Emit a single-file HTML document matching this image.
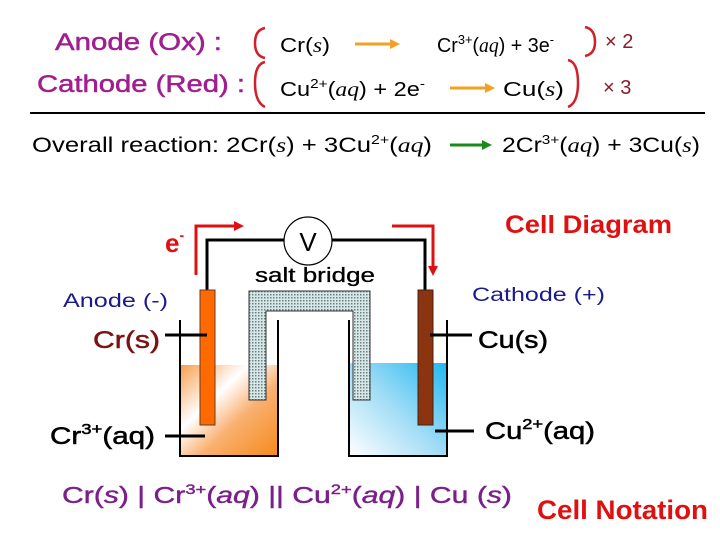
<!DOCTYPE html>
<html><head><meta charset="utf-8"><style>html,body{margin:0;padding:0;background:#fff}svg{display:block}text{font-family:"Liberation Sans",sans-serif}</style></head><body>
<svg width="720" height="540" viewBox="0 0 720 540" xmlns="http://www.w3.org/2000/svg">
<defs>
<pattern id="dots" width="3" height="3" patternUnits="userSpaceOnUse"><rect width="3" height="3" fill="#d8e8e8"/><rect width="1.5" height="1.5" fill="#6a7f80"/></pattern>
<linearGradient id="org" x1="0" y1="0" x2="1" y2="1"><stop offset="0" stop-color="#f6a050"/><stop offset="0.35" stop-color="#fff"/><stop offset="0.6" stop-color="#f9b070"/><stop offset="1" stop-color="#f58a1a"/></linearGradient>
<linearGradient id="blu" x1="1" y1="0" x2="0" y2="1"><stop offset="0" stop-color="#20b8f0"/><stop offset="0.5" stop-color="#a0dcf6"/><stop offset="1" stop-color="#fff"/></linearGradient>
</defs>
<!-- half reactions -->
<text x="55" y="50" font-size="24" fill="#a01f90" stroke="#a01f90" stroke-width="0.5" textLength="167" lengthAdjust="spacingAndGlyphs">Anode (Ox) :</text>
<text x="37" y="92" font-size="24" fill="#a01f90" stroke="#a01f90" stroke-width="0.5" textLength="208" lengthAdjust="spacingAndGlyphs">Cathode (Red) :</text>
<path d="M265 28 Q255 30 255 43 Q255 56 265 58" fill="none" stroke="#d0202a" stroke-width="2.5"/>
<path d="M265 62 Q255 64 255 83 Q255 102 265 107" fill="none" stroke="#d0202a" stroke-width="2.5"/>
<path d="M585 27 Q595 29 595 42 Q595 54 585 56" fill="none" stroke="#d0202a" stroke-width="2.5"/>
<path d="M568 60 Q578 62 578 83 Q578 103 568 107" fill="none" stroke="#d0202a" stroke-width="2.5"/>
<text x="280" y="52" font-size="20" textLength="50" lengthAdjust="spacingAndGlyphs">Cr(<tspan font-family="Liberation Serif" font-style="italic">s</tspan>)</text>
<line x1="355" y1="44" x2="392" y2="44" stroke="#f5a020" stroke-width="3"/><polygon points="390,39 400,44 390,49" fill="#f5a020"/>
<text x="437" y="52" font-size="20" textLength="117" lengthAdjust="spacingAndGlyphs">Cr<tspan font-size="13" dy="-8">3+</tspan><tspan dy="8">(</tspan><tspan font-family="Liberation Serif" font-style="italic">aq</tspan>) + 3e<tspan font-size="13" dy="-8">-</tspan></text>
<text x="605" y="48" font-size="20" fill="#8b1a2a">× 2</text>
<text x="280" y="96" font-size="20" textLength="145" lengthAdjust="spacingAndGlyphs">Cu<tspan font-size="13" dy="-8">2+</tspan><tspan dy="8">(</tspan><tspan font-family="Liberation Serif" font-style="italic">aq</tspan>) + 2e<tspan font-size="13" dy="-8">-</tspan></text>
<line x1="450" y1="88" x2="487" y2="88" stroke="#f5a020" stroke-width="3"/><polygon points="485,83 495,88 485,93" fill="#f5a020"/>
<text x="503" y="96" font-size="20" textLength="61" lengthAdjust="spacingAndGlyphs">Cu(<tspan font-family="Liberation Serif" font-style="italic">s</tspan>)</text>
<text x="603" y="94" font-size="20" fill="#8b1a2a">× 3</text>
<line x1="30" y1="113" x2="705" y2="113" stroke="#000" stroke-width="2"/>
<text x="32" y="152" font-size="21" textLength="400" lengthAdjust="spacingAndGlyphs">Overall reaction:   2Cr(<tspan font-family="Liberation Serif" font-style="italic">s</tspan>) + 3Cu<tspan font-size="13" dy="-8">2+</tspan><tspan dy="8">(</tspan><tspan font-family="Liberation Serif" font-style="italic">aq</tspan>)</text>
<line x1="450" y1="145" x2="484" y2="145" stroke="#1a8a1a" stroke-width="3"/><polygon points="482,140 492,145 482,150" fill="#1a8a1a"/>
<text x="502" y="152" font-size="21" textLength="198" lengthAdjust="spacingAndGlyphs">2Cr<tspan font-size="13" dy="-8">3+</tspan><tspan dy="8">(</tspan><tspan font-family="Liberation Serif" font-style="italic">aq</tspan>) + 3Cu(<tspan font-family="Liberation Serif" font-style="italic">s</tspan>)</text>
<!-- cell diagram -->
<text x="505" y="233" font-size="25" font-weight="bold" fill="#e01010" textLength="167" lengthAdjust="spacingAndGlyphs">Cell Diagram</text>
<polyline points="207,290 207,240 284,240" fill="none" stroke="#000" stroke-width="3"/>
<polyline points="332,240 425,240 425,290" fill="none" stroke="#000" stroke-width="3"/>
<circle cx="308" cy="241" r="24" fill="#fff" stroke="#000" stroke-width="1.2"/>
<text x="308" y="251" font-size="26" text-anchor="middle">V</text>
<polyline points="196,275 196,226 236,226" fill="none" stroke="#e01010" stroke-width="3"/><polygon points="234,221 244,226 234,231" fill="#e01010"/>
<polyline points="392,226 433,226 433,267" fill="none" stroke="#e01010" stroke-width="3"/><polygon points="428,266 433,276 438,266" fill="#e01010"/>
<text x="165" y="252" font-size="26" font-weight="bold" fill="#e01010">e<tspan font-size="14" dy="-12">-</tspan></text>
<text x="255" y="282" font-size="20" stroke="#000" stroke-width="0.3" textLength="120" lengthAdjust="spacingAndGlyphs">salt bridge</text>
<!-- beakers -->
<path d="M181 365 H278 V456 H181 Z" fill="url(#org)"/>
<path d="M349 363 H447 V456 H349 Z" fill="url(#blu)"/>
<polyline points="180,320 180,456 278,456 278,320" fill="none" stroke="#000" stroke-width="2"/>
<polyline points="349,320 349,456 447,456 447,320" fill="none" stroke="#000" stroke-width="2"/>
<path d="M249 291 H370 V400 H353 V311 H266 V400 H249 Z" fill="url(#dots)" stroke="#333" stroke-width="1"/>
<rect x="200" y="290" width="15" height="135" fill="#ff6a00" stroke="#6a3a20" stroke-width="1"/>
<rect x="418" y="290" width="15" height="135" fill="#8b3410" stroke="#4a2010" stroke-width="1"/>
<line x1="165" y1="335" x2="207" y2="335" stroke="#000" stroke-width="3"/>
<line x1="165" y1="436" x2="205" y2="436" stroke="#000" stroke-width="3"/>
<line x1="430" y1="335" x2="472" y2="335" stroke="#000" stroke-width="3"/>
<line x1="435" y1="431" x2="474" y2="431" stroke="#000" stroke-width="3"/>
<text x="63" y="307" font-size="19" fill="#1a1a8a" textLength="105" lengthAdjust="spacingAndGlyphs">Anode (-)</text>
<text x="93" y="348" font-size="24" fill="#7a1414" stroke="#7a1414" stroke-width="0.5" textLength="67" lengthAdjust="spacingAndGlyphs">Cr(s)</text>
<text x="50" y="444" font-size="24" stroke="#000" stroke-width="0.5" textLength="105" lengthAdjust="spacingAndGlyphs">Cr<tspan font-size="15" dy="-10">3+</tspan><tspan dy="10">(aq)</tspan></text>
<text x="472" y="301" font-size="19" fill="#1a1a8a" textLength="133" lengthAdjust="spacingAndGlyphs">Cathode (+)</text>
<text x="478" y="348" font-size="24" stroke="#000" stroke-width="0.5" textLength="70" lengthAdjust="spacingAndGlyphs">Cu(s)</text>
<text x="485" y="439" font-size="24" stroke="#000" stroke-width="0.5" textLength="110" lengthAdjust="spacingAndGlyphs">Cu<tspan font-size="15" dy="-10">2+</tspan><tspan dy="10">(aq)</tspan></text>
<!-- notation -->
<text x="62" y="503" font-size="23" fill="#7b1f8a" stroke="#7b1f8a" stroke-width="0.4" textLength="450" lengthAdjust="spacingAndGlyphs">Cr(<tspan font-style="italic">s</tspan>) | Cr<tspan font-size="14" dy="-9">3+</tspan><tspan dy="9">(</tspan><tspan font-style="italic">aq</tspan>)  ||  Cu<tspan font-size="14" dy="-9">2+</tspan><tspan dy="9">(</tspan><tspan font-style="italic">aq</tspan>) | Cu (<tspan font-style="italic">s</tspan>)</text>
<text x="537" y="519" font-size="27" font-weight="bold" fill="#e01010" textLength="171" lengthAdjust="spacingAndGlyphs">Cell Notation</text>
</svg>
</body></html>
